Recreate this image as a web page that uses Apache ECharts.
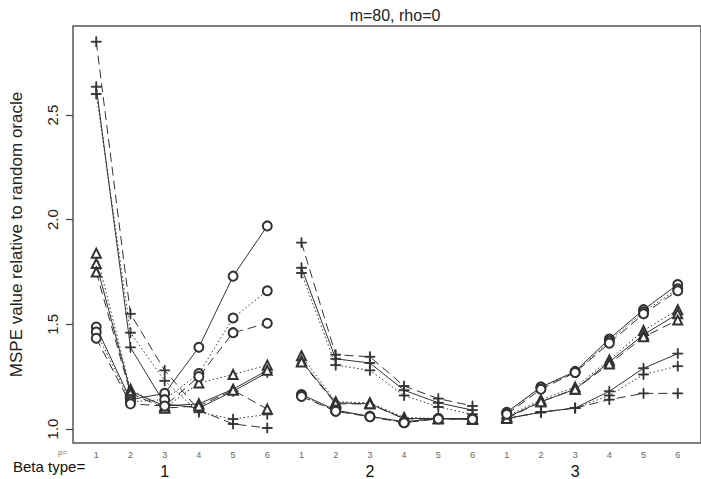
<!DOCTYPE html>
<html><head><meta charset="utf-8">
<script src="https://cdn.jsdelivr.net/npm/echarts@6/dist/echarts.min.js"></script>
<style>html,body{margin:0;padding:0;background:#fff}#c{width:701px;height:479px}</style>
</head><body><div id="c"></div>
<script>
// ---- data ----
const pLabels = ['1','2','3','4','5','6','1','2','3','4','5','6','1','2','3','4','5','6'];
const betaTypes = ['1','2','3'];
const betaPositions = [3, 9, 15];
const yTicks = [1.0, 1.5, 2.0, 2.5];
const titleText = 'm=80, rho=0';
const yTitle = 'MSPE value relative to random oracle';

// plus-marker series
const plusDash  = [2.85, 1.55, 1.28, 1.09, 1.024, 1.005,  1.89, 1.355, 1.345, 1.205, 1.145, 1.11,  1.05, 1.08, 1.10, 1.14, 1.17, 1.17];
const plusSolid = [2.635, 1.39, 1.12, 1.10, 1.18, 1.27,   1.77, 1.335, 1.315, 1.185, 1.125, 1.09,  1.05, 1.08, 1.10, 1.18, 1.29, 1.36];
const plusDot   = [2.60, 1.46, 1.23, 1.08, 1.047, 1.07,   1.745, 1.305, 1.28, 1.16, 1.105, 1.07,   1.05, 1.08, 1.10, 1.16, 1.26, 1.30];
// triangle-marker series
const triDot    = [1.84, 1.19, 1.10, 1.22, 1.26, 1.305,   1.35, 1.13, 1.125, 1.055, 1.05, 1.05,    1.06, 1.14, 1.20, 1.33, 1.47, 1.57];
const triSolid  = [1.79, 1.18, 1.11, 1.12, 1.19, 1.28,    1.325, 1.125, 1.12, 1.05, 1.05, 1.048,   1.055, 1.13, 1.19, 1.32, 1.45, 1.55];
const triDash   = [1.75, 1.17, 1.10, 1.11, 1.185, 1.095,  1.32, 1.12, 1.12, 1.048, 1.048, 1.045,   1.05, 1.13, 1.19, 1.31, 1.44, 1.52];
// circle-marker series
const circSolid = [1.487, 1.14, 1.17, 1.39, 1.73, 1.97,   1.165, 1.09, 1.06, 1.035, 1.05, 1.05,    1.08, 1.20, 1.275, 1.43, 1.57, 1.69];
const circDot   = [1.463, 1.13, 1.14, 1.265, 1.53, 1.66,  1.16, 1.085, 1.06, 1.03, 1.05, 1.048,    1.075, 1.20, 1.27, 1.42, 1.56, 1.67];
const circDash  = [1.433, 1.12, 1.11, 1.25, 1.46, 1.505,  1.155, 1.085, 1.058, 1.03, 1.048, 1.046, 1.07, 1.19, 1.27, 1.41, 1.55, 1.66];

// ---- build ----
const PLUS = 'path://M0,4.55H10V5.45H0Z M4.55,0H5.45V10H4.55Z';
const defs = [
  {name:'plusDash', vals:plusDash, sym:PLUS, dash:[9,5]},
  {name:'plusSolid', vals:plusSolid, sym:PLUS, dash:'solid'},
  {name:'plusDot', vals:plusDot, sym:PLUS, dash:[1.5,2.5]},
  {name:'triDot', vals:triDot, sym:'emptyTriangle', dash:[1.5,2.5]},
  {name:'triSolid', vals:triSolid, sym:'emptyTriangle', dash:'solid'},
  {name:'triDash', vals:triDash, sym:'emptyTriangle', dash:[9,5]},
  {name:'circSolid', vals:circSolid, sym:'emptyCircle', dash:'solid'},
  {name:'circDot', vals:circDot, sym:'emptyCircle', dash:[1.5,2.5]},
  {name:'circDash', vals:circDash, sym:'emptyCircle', dash:[9,5]}
];
function toPoints(vals){
  const out = [];
  vals.forEach((v,i)=>{
    out.push([i+1, v]);
    if (i === 5 || i === 11) out.push([i+1.5, '-']);
  });
  return out;
}
const FONT = 'Liberation Sans, Arial, sans-serif';
const series = defs.map(d => ({
  name: d.name, type: 'line', data: toPoints(d.vals),
  symbol: d.sym, symbolSize: d.sym === PLUS ? 10 : 9, connectNulls: false,
  showAllSymbol: true, animation: false,
  lineStyle: {color:'#333', width:1, type:d.dash},
  itemStyle: {color:'#333', borderColor:'#333', borderWidth:0.9}
}));

const chart = echarts.init(document.getElementById('c'), null, {renderer:'svg'});
chart.setOption({
  backgroundColor:'#fff',
  animation:false,
  title:{text:titleText, left:390, top:2, textAlign:'center',
    textStyle:{fontFamily:FONT, fontSize:16, fontWeight:'normal', color:'#222'}},
  grid:{left:72, top:26, right:-6, bottom:36, show:true, borderColor:'#555', borderWidth:1.5, backgroundColor:'transparent'},
  xAxis:[
    {type:'value', min:0.32, max:18.68, axisLine:{show:false}, axisTick:{show:false}, splitLine:{show:false},
     axisLabel:{customValues:[1,2,3,4,5,6,7,8,9,10,11,12,13,14,15,16,17,18], formatter:v=>pLabels[Math.round(v)-1],
       fontSize:9, color:'#666', margin:7, fontFamily:FONT}},
    {type:'value', position:'bottom', min:0.32, max:18.68, axisLine:{show:false}, axisTick:{show:false}, splitLine:{show:false},
     axisLabel:{customValues:betaPositions, formatter:v=>betaTypes[betaPositions.indexOf(Math.round(v))],
       fontSize:16, color:'#111', margin:20, fontFamily:FONT}}
  ],
  yAxis:{type:'value', min:0.933, max:2.925, splitLine:{show:false},
    axisLine:{show:false},
    axisTick:{show:true, customValues:yTicks, length:7, lineStyle:{color:'#444', width:1.2}},
    axisLabel:{customValues:yTicks, formatter:v=>v.toFixed(1), rotate:90, fontSize:15, color:'#222', margin:13, fontFamily:FONT},
    name:yTitle, nameLocation:'middle', nameGap:48,
    nameTextStyle:{fontSize:17, color:'#222', fontFamily:FONT}},
  graphic:[
    {type:'text', left:58, top:448, style:{text:'p=', fontSize:8, fill:'#777', fontFamily:FONT}},
    {type:'text', left:13, top:459, style:{text:'Beta type=', fontSize:15, fill:'#111', fontFamily:FONT}}
  ],
  series: series
});
</script></body></html>
